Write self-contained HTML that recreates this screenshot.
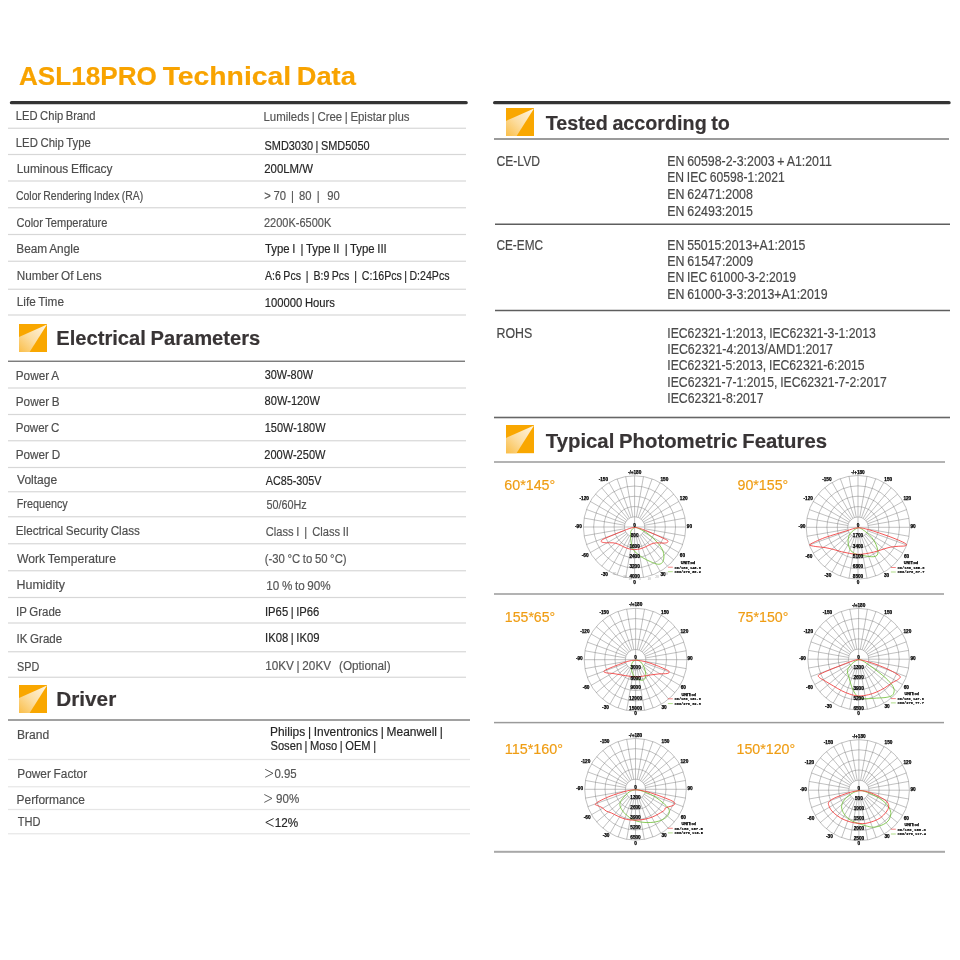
<!DOCTYPE html>
<html lang="en"><head><meta charset="utf-8"><title>ASL18PRO Technical Data</title>
<style>
html,body{margin:0;padding:0;background:#fff;}
body{width:960px;height:960px;position:relative;overflow:hidden;font-family:"Liberation Sans", sans-serif;}
.t{position:absolute;white-space:pre;line-height:1;transform-origin:0 0;margin:0;word-spacing:-0.05em;-webkit-text-stroke:0.18px currentColor;}
.ln{position:absolute;}
.ic,.ch{position:absolute;}
</style></head><body>
<svg class="ch" style="left:0;top:98px" width="960" height="8" viewBox="0 98 960 8"><path d="M11.50,102.65 H466.10" stroke="#343434" stroke-width="3.40" stroke-linecap="round" fill="none"/></svg>
<svg class="ch" style="left:0;top:98px" width="960" height="8" viewBox="0 98 960 8"><path d="M494.70,102.65 H949.00" stroke="#343434" stroke-width="3.40" stroke-linecap="round" fill="none"/></svg>
<div class="ln" style="left:8px;top:127px;width:458px;height:1px;background:#f1f1f1"></div>
<div class="ln" style="left:8px;top:128px;width:458px;height:1px;background:#dddddd"></div>
<div class="ln" style="left:8px;top:153px;width:458px;height:1px;background:#fbfbfb"></div>
<div class="ln" style="left:8px;top:154px;width:458px;height:1px;background:#d7d7d7"></div>
<div class="ln" style="left:8px;top:155px;width:458px;height:1px;background:#fbfbfb"></div>
<div class="ln" style="left:8px;top:180px;width:458px;height:1px;background:#e7e7e7"></div>
<div class="ln" style="left:8px;top:181px;width:458px;height:1px;background:#e7e7e7"></div>
<div class="ln" style="left:8px;top:207px;width:458px;height:1px;background:#dddddd"></div>
<div class="ln" style="left:8px;top:208px;width:458px;height:1px;background:#f1f1f1"></div>
<div class="ln" style="left:8px;top:233px;width:458px;height:1px;background:#fbfbfb"></div>
<div class="ln" style="left:8px;top:234px;width:458px;height:1px;background:#d7d7d7"></div>
<div class="ln" style="left:8px;top:235px;width:458px;height:1px;background:#fbfbfb"></div>
<div class="ln" style="left:8px;top:260px;width:458px;height:1px;background:#f1f1f1"></div>
<div class="ln" style="left:8px;top:261px;width:458px;height:1px;background:#dddddd"></div>
<div class="ln" style="left:8px;top:288px;width:458px;height:1px;background:#f1f1f1"></div>
<div class="ln" style="left:8px;top:289px;width:458px;height:1px;background:#dddddd"></div>
<div class="ln" style="left:8px;top:314px;width:458px;height:1px;background:#e7e7e7"></div>
<div class="ln" style="left:8px;top:315px;width:458px;height:1px;background:#e7e7e7"></div>
<div class="ln" style="left:8px;top:360px;width:457px;height:1px;background:#c5c5c5"></div>
<div class="ln" style="left:8px;top:361px;width:457px;height:1px;background:#7d7d7d"></div>
<div class="ln" style="left:8px;top:387px;width:458px;height:1px;background:#e7e7e7"></div>
<div class="ln" style="left:8px;top:388px;width:458px;height:1px;background:#e7e7e7"></div>
<div class="ln" style="left:8px;top:413px;width:458px;height:1px;background:#fbfbfb"></div>
<div class="ln" style="left:8px;top:414px;width:458px;height:1px;background:#d7d7d7"></div>
<div class="ln" style="left:8px;top:415px;width:458px;height:1px;background:#fbfbfb"></div>
<div class="ln" style="left:8px;top:440px;width:458px;height:1px;background:#dddddd"></div>
<div class="ln" style="left:8px;top:441px;width:458px;height:1px;background:#f1f1f1"></div>
<div class="ln" style="left:8px;top:466px;width:458px;height:1px;background:#fbfbfb"></div>
<div class="ln" style="left:8px;top:467px;width:458px;height:1px;background:#d7d7d7"></div>
<div class="ln" style="left:8px;top:468px;width:458px;height:1px;background:#fbfbfb"></div>
<div class="ln" style="left:8px;top:491px;width:458px;height:1px;background:#dddddd"></div>
<div class="ln" style="left:8px;top:492px;width:458px;height:1px;background:#f1f1f1"></div>
<div class="ln" style="left:8px;top:516px;width:458px;height:1px;background:#dddddd"></div>
<div class="ln" style="left:8px;top:517px;width:458px;height:1px;background:#f1f1f1"></div>
<div class="ln" style="left:8px;top:543px;width:458px;height:1px;background:#dddddd"></div>
<div class="ln" style="left:8px;top:544px;width:458px;height:1px;background:#f1f1f1"></div>
<div class="ln" style="left:8px;top:570px;width:458px;height:1px;background:#dddddd"></div>
<div class="ln" style="left:8px;top:571px;width:458px;height:1px;background:#f1f1f1"></div>
<div class="ln" style="left:8px;top:596px;width:458px;height:1px;background:#fbfbfb"></div>
<div class="ln" style="left:8px;top:597px;width:458px;height:1px;background:#d7d7d7"></div>
<div class="ln" style="left:8px;top:598px;width:458px;height:1px;background:#fbfbfb"></div>
<div class="ln" style="left:8px;top:622px;width:458px;height:1px;background:#e7e7e7"></div>
<div class="ln" style="left:8px;top:623px;width:458px;height:1px;background:#e7e7e7"></div>
<div class="ln" style="left:8px;top:651px;width:458px;height:1px;background:#dddddd"></div>
<div class="ln" style="left:8px;top:652px;width:458px;height:1px;background:#f1f1f1"></div>
<div class="ln" style="left:8px;top:676px;width:458px;height:1px;background:#f1f1f1"></div>
<div class="ln" style="left:8px;top:677px;width:458px;height:1px;background:#dddddd"></div>
<div class="ln" style="left:8px;top:719px;width:462px;height:1px;background:#a1a1a1"></div>
<div class="ln" style="left:8px;top:720px;width:462px;height:1px;background:#a1a1a1"></div>
<div class="ln" style="left:8px;top:758px;width:462px;height:1px;background:#fcfcfc"></div>
<div class="ln" style="left:8px;top:759px;width:462px;height:1px;background:#e6e6e6"></div>
<div class="ln" style="left:8px;top:760px;width:462px;height:1px;background:#fcfcfc"></div>
<div class="ln" style="left:8px;top:786px;width:462px;height:1px;background:#eaeaea"></div>
<div class="ln" style="left:8px;top:787px;width:462px;height:1px;background:#f6f6f6"></div>
<div class="ln" style="left:8px;top:808px;width:462px;height:1px;background:#fcfcfc"></div>
<div class="ln" style="left:8px;top:809px;width:462px;height:1px;background:#e6e6e6"></div>
<div class="ln" style="left:8px;top:810px;width:462px;height:1px;background:#fcfcfc"></div>
<div class="ln" style="left:8px;top:833px;width:462px;height:1px;background:#eaeaea"></div>
<div class="ln" style="left:8px;top:834px;width:462px;height:1px;background:#f6f6f6"></div>
<div class="ln" style="left:494px;top:138px;width:455px;height:1px;background:#9b9b9b"></div>
<div class="ln" style="left:494px;top:139px;width:455px;height:1px;background:#9b9b9b"></div>
<div class="ln" style="left:495px;top:223px;width:455px;height:1px;background:#aeaeae"></div>
<div class="ln" style="left:495px;top:224px;width:455px;height:1px;background:#5e5e5e"></div>
<div class="ln" style="left:495px;top:309px;width:455px;height:1px;background:#d7d7d7"></div>
<div class="ln" style="left:495px;top:310px;width:455px;height:1px;background:#5e5e5e"></div>
<div class="ln" style="left:495px;top:311px;width:455px;height:1px;background:#d7d7d7"></div>
<div class="ln" style="left:494px;top:416px;width:456px;height:1px;background:#d1d1d1"></div>
<div class="ln" style="left:494px;top:417px;width:456px;height:1px;background:#666666"></div>
<div class="ln" style="left:494px;top:418px;width:456px;height:1px;background:#d1d1d1"></div>
<div class="ln" style="left:494px;top:461px;width:451px;height:1px;background:#b3b3b3"></div>
<div class="ln" style="left:494px;top:462px;width:451px;height:1px;background:#b3b3b3"></div>
<div class="ln" style="left:494px;top:593px;width:450px;height:1px;background:#b3b3b3"></div>
<div class="ln" style="left:494px;top:594px;width:450px;height:1px;background:#b3b3b3"></div>
<div class="ln" style="left:494px;top:721px;width:450px;height:1px;background:#f0f0f0"></div>
<div class="ln" style="left:494px;top:722px;width:450px;height:1px;background:#9a9a9a"></div>
<div class="ln" style="left:494px;top:723px;width:450px;height:1px;background:#dcdcdc"></div>
<div class="ln" style="left:494px;top:850px;width:451px;height:1px;background:#eeeeee"></div>
<div class="ln" style="left:494px;top:851px;width:451px;height:1px;background:#a8a8a8"></div>
<div class="ln" style="left:494px;top:852px;width:451px;height:1px;background:#b9b9b9"></div>
<svg class="ic" style="left:19.00px;top:323.50px" width="28.20" height="28.20" viewBox="0 0 28.2 28.2"><defs><linearGradient id="ig0" x1="0" y1="1" x2="1" y2="0"><stop offset="0" stop-color="#fabe48"/><stop offset="0.45" stop-color="#fcdda0"/><stop offset="1" stop-color="#fff6e6"/></linearGradient></defs><rect width="28.2" height="28.2" fill="#f9a700"/><path d="M28.2,0.3 L0,12.9 L0,28.2 L10.5,28.2 Z" fill="url(#ig0)"/></svg>
<svg class="ic" style="left:19.00px;top:684.50px" width="28.20" height="28.20" viewBox="0 0 28.2 28.2"><defs><linearGradient id="ig1" x1="0" y1="1" x2="1" y2="0"><stop offset="0" stop-color="#fabe48"/><stop offset="0.45" stop-color="#fcdda0"/><stop offset="1" stop-color="#fff6e6"/></linearGradient></defs><rect width="28.2" height="28.2" fill="#f9a700"/><path d="M28.2,0.3 L0,12.9 L0,28.2 L10.5,28.2 Z" fill="url(#ig1)"/></svg>
<svg class="ic" style="left:506.20px;top:107.80px" width="28.20" height="28.20" viewBox="0 0 28.2 28.2"><defs><linearGradient id="ig2" x1="0" y1="1" x2="1" y2="0"><stop offset="0" stop-color="#fabe48"/><stop offset="0.45" stop-color="#fcdda0"/><stop offset="1" stop-color="#fff6e6"/></linearGradient></defs><rect width="28.2" height="28.2" fill="#f9a700"/><path d="M28.2,0.3 L0,12.9 L0,28.2 L10.5,28.2 Z" fill="url(#ig2)"/></svg>
<svg class="ic" style="left:506.20px;top:425.40px" width="28.20" height="28.20" viewBox="0 0 28.2 28.2"><defs><linearGradient id="ig3" x1="0" y1="1" x2="1" y2="0"><stop offset="0" stop-color="#fabe48"/><stop offset="0.45" stop-color="#fcdda0"/><stop offset="1" stop-color="#fff6e6"/></linearGradient></defs><rect width="28.2" height="28.2" fill="#f9a700"/><path d="M28.2,0.3 L0,12.9 L0,28.2 L10.5,28.2 Z" fill="url(#ig3)"/></svg>
<div id="txt" style="position:absolute;left:0;top:0;width:960px;height:960px;will-change:transform">
<div class="t" style="left:15px;top:110px;font-size:12.50px;font-weight:400;color:#4d4d4d;transform:translateX(0.75px) scaleX(0.8959)">LED Chip Brand</div>
<div class="t" style="left:15px;top:137px;font-size:12.50px;font-weight:400;color:#4d4d4d;transform:translateX(0.75px) scaleX(0.9093)">LED Chip Type</div>
<div class="t" style="left:16px;top:163px;font-size:12.50px;font-weight:400;color:#4d4d4d;transform:translateX(0.75px) scaleX(0.9510)">Luminous Efficacy</div>
<div class="t" style="left:16px;top:190px;font-size:12.50px;font-weight:400;color:#4d4d4d;transform:translateX(0.00px) scaleX(0.8347)">Color Rendering Index (RA)</div>
<div class="t" style="left:16px;top:217px;font-size:12.50px;font-weight:400;color:#4d4d4d;transform:translateX(0.50px) scaleX(0.8859)">Color Temperature</div>
<div class="t" style="left:16px;top:243px;font-size:12.50px;font-weight:400;color:#4d4d4d;transform:translateX(0.25px) scaleX(0.9471)">Beam Angle</div>
<div class="t" style="left:16px;top:270px;font-size:12.50px;font-weight:400;color:#4d4d4d;transform:translateX(0.75px) scaleX(0.9377)">Number Of Lens</div>
<div class="t" style="left:16px;top:296px;font-size:12.50px;font-weight:400;color:#4d4d4d;transform:translateX(0.75px) scaleX(0.9423)">Life Time</div>
<div class="t" style="left:263px;top:111px;font-size:12.50px;font-weight:400;color:#555555;transform:translateX(0.50px) scaleX(0.9146)">Lumileds | Cree | Epistar plus</div>
<div class="t" style="left:264px;top:140px;font-size:12.50px;font-weight:400;color:#262626;transform:translateX(0.50px) scaleX(0.8746)">SMD3030 | SMD5050</div>
<div class="t" style="left:264px;top:163px;font-size:12.50px;font-weight:400;color:#262626;transform:translateX(0.25px) scaleX(0.9112)">200LM/W</div>
<div class="t" style="left:264px;top:190px;font-size:12.50px;font-weight:400;color:#555555;transform:translateX(0.25px) scaleX(0.8997)">&gt; 70  |  80  |   90</div>
<div class="t" style="left:264px;top:217px;font-size:12.50px;font-weight:400;color:#555555;transform:translateX(0.00px) scaleX(0.8796)">2200K-6500K</div>
<div class="t" style="left:265px;top:243px;font-size:12.50px;font-weight:400;color:#262626;transform:translateX(0.00px) scaleX(0.9100)">Type I  | Type II  | Type III</div>
<div class="t" style="left:265px;top:270px;font-size:12.50px;font-weight:400;color:#262626;transform:translateX(0.00px) scaleX(0.8480)">A:6 Pcs  |  B:9 Pcs  |  C:16Pcs | D:24Pcs</div>
<div class="t" style="left:264px;top:297px;font-size:12.50px;font-weight:400;color:#262626;transform:translateX(0.75px) scaleX(0.9005)">100000 Hours</div>
<div class="t" style="left:15px;top:370px;font-size:12.50px;font-weight:400;color:#4d4d4d;transform:translateX(0.75px) scaleX(0.9418)">Power A</div>
<div class="t" style="left:15px;top:396px;font-size:12.50px;font-weight:400;color:#4d4d4d;transform:translateX(0.75px) scaleX(0.9418)">Power B</div>
<div class="t" style="left:15px;top:422px;font-size:12.50px;font-weight:400;color:#4d4d4d;transform:translateX(0.75px) scaleX(0.9228)">Power C</div>
<div class="t" style="left:15px;top:449px;font-size:12.50px;font-weight:400;color:#4d4d4d;transform:translateX(0.75px) scaleX(0.9387)">Power D</div>
<div class="t" style="left:17px;top:474px;font-size:12.50px;font-weight:400;color:#4d4d4d;transform:translateX(0.00px) scaleX(0.9648)">Voltage</div>
<div class="t" style="left:16px;top:498px;font-size:12.50px;font-weight:400;color:#4d4d4d;transform:translateX(0.75px) scaleX(0.8635)">Frequency</div>
<div class="t" style="left:15px;top:525px;font-size:12.50px;font-weight:400;color:#4d4d4d;transform:translateX(0.75px) scaleX(0.9342)">Electrical Security Class</div>
<div class="t" style="left:17px;top:553px;font-size:12.50px;font-weight:400;color:#4d4d4d;transform:translateX(0.00px) scaleX(0.9725)">Work Temperature</div>
<div class="t" style="left:16px;top:579px;font-size:12.50px;font-weight:400;color:#4d4d4d;transform:translateX(0.50px) scaleX(0.9974)">Humidity</div>
<div class="t" style="left:16px;top:606px;font-size:12.50px;font-weight:400;color:#4d4d4d;transform:translateX(0.00px) scaleX(0.9191)">IP Grade</div>
<div class="t" style="left:16px;top:633px;font-size:12.50px;font-weight:400;color:#4d4d4d;transform:translateX(0.50px) scaleX(0.9242)">IK Grade</div>
<div class="t" style="left:17px;top:661px;font-size:12.50px;font-weight:400;color:#4d4d4d;transform:translateX(0.00px) scaleX(0.8657)">SPD</div>
<div class="t" style="left:264px;top:369px;font-size:12.50px;font-weight:400;color:#262626;transform:translateX(0.75px) scaleX(0.8718)">30W-80W</div>
<div class="t" style="left:264px;top:395px;font-size:12.50px;font-weight:400;color:#262626;transform:translateX(0.50px) scaleX(0.8909)">80W-120W</div>
<div class="t" style="left:264px;top:422px;font-size:12.50px;font-weight:400;color:#262626;transform:translateX(0.75px) scaleX(0.8773)">150W-180W</div>
<div class="t" style="left:264px;top:449px;font-size:12.50px;font-weight:400;color:#262626;transform:translateX(0.25px) scaleX(0.8845)">200W-250W</div>
<div class="t" style="left:265px;top:475px;font-size:12.50px;font-weight:400;color:#262626;transform:translateX(0.75px) scaleX(0.8627)">AC85-305V</div>
<div class="t" style="left:266px;top:499px;font-size:12.50px;font-weight:400;color:#555555;transform:translateX(0.50px) scaleX(0.8644)">50/60Hz</div>
<div class="t" style="left:265px;top:526px;font-size:12.50px;font-weight:400;color:#555555;transform:translateX(0.75px) scaleX(0.8919)">Class I  |  Class II</div>
<div class="t" style="left:264px;top:553px;font-size:12.50px;font-weight:400;color:#555555;transform:translateX(0.75px) scaleX(0.9081)">(-30 °C to 50 °C)</div>
<div class="t" style="left:266px;top:580px;font-size:12.50px;font-weight:400;color:#555555;transform:translateX(0.25px) scaleX(0.9345)">10 % to 90%</div>
<div class="t" style="left:265px;top:606px;font-size:12.50px;font-weight:400;color:#262626;transform:translateX(0.00px) scaleX(0.8995)">IP65 | IP66</div>
<div class="t" style="left:265px;top:632px;font-size:12.50px;font-weight:400;color:#262626;transform:translateX(0.00px) scaleX(0.9037)">IK08 | IK09</div>
<div class="t" style="left:265px;top:660px;font-size:12.50px;font-weight:400;color:#555555;transform:translateX(0.25px) scaleX(0.9385)">10KV | 20KV   (Optional)</div>
<div class="t" style="left:17px;top:729px;font-size:12.50px;font-weight:400;color:#4d4d4d;transform:translateX(0.00px) scaleX(0.9667)">Brand</div>
<div class="t" style="left:17px;top:768px;font-size:12.50px;font-weight:400;color:#4d4d4d;transform:translateX(0.25px) scaleX(0.9486)">Power Factor</div>
<div class="t" style="left:16px;top:794px;font-size:12.50px;font-weight:400;color:#4d4d4d;transform:translateX(0.50px) scaleX(0.9572)">Performance</div>
<div class="t" style="left:17px;top:816px;font-size:12.50px;font-weight:400;color:#4d4d4d;transform:translateX(0.75px) scaleX(0.8851)">THD</div>
<div class="t" style="left:270px;top:726px;font-size:12.50px;font-weight:400;color:#262626;transform:translateX(0.00px) scaleX(0.9549)">Philips | Inventronics | Meanwell |</div>
<div class="t" style="left:270px;top:740px;font-size:12.50px;font-weight:400;color:#262626;transform:translateX(0.50px) scaleX(0.8908)">Sosen | Moso | OEM |</div>
<div class="t" style="left:274px;top:768px;font-size:12.50px;font-weight:400;color:#555555;transform:translateX(0.45px) scaleX(0.9140)">0.95</div>
<div class="t" style="left:276px;top:793px;font-size:12.50px;font-weight:400;color:#555555;transform:translateX(0.05px) scaleX(0.9248)">90%</div>
<div class="t" style="left:274px;top:817px;font-size:12.50px;font-weight:400;color:#262626;transform:translateX(0.75px) scaleX(0.9388)">12%</div>
<div class="t" style="left:19px;top:64px;font-size:25.20px;font-weight:700;color:#f8a300;transform:translateX(0.00px) scaleX(1.0370)">ASL18PRO</div>
<div class="t" style="left:162px;top:64px;font-size:25.20px;font-weight:700;color:#f8a300;transform:translateX(0.65px) scaleX(1.1240)">Technical</div>
<div class="t" style="left:296px;top:64px;font-size:25.20px;font-weight:700;color:#f8a300;transform:translateX(0.75px) scaleX(1.0825)">Data</div>
<div class="t" style="left:56px;top:328px;font-size:20.30px;font-weight:700;color:#383435;transform:translateX(0.25px) scaleX(0.9938)">Electrical Parameters</div>
<div class="t" style="left:56px;top:689px;font-size:20.30px;font-weight:700;color:#383435;transform:translateX(0.25px) scaleX(1.0232)">Driver</div>
<div class="t" style="left:545px;top:113px;font-size:20.30px;font-weight:700;color:#383435;transform:translateX(0.75px) scaleX(0.9731)">Tested according to</div>
<div class="t" style="left:545px;top:431px;font-size:20.30px;font-weight:700;color:#383435;transform:translateX(0.75px) scaleX(1.0029)">Typical Photometric Features</div>
<div class="t" style="left:496px;top:154px;font-size:14.20px;font-weight:400;color:#484848;transform:translateX(0.50px) scaleX(0.8532)">CE-LVD</div>
<div class="t" style="left:667px;top:154px;font-size:14.20px;font-weight:400;color:#484848;transform:translateX(0.25px) scaleX(0.8711)">EN 60598-2-3:2003 + A1:2011</div>
<div class="t" style="left:667px;top:170px;font-size:14.20px;font-weight:400;color:#484848;transform:translateX(0.25px) scaleX(0.8545)">EN IEC 60598-1:2021</div>
<div class="t" style="left:667px;top:187px;font-size:14.20px;font-weight:400;color:#484848;transform:translateX(0.25px) scaleX(0.8741)">EN 62471:2008</div>
<div class="t" style="left:667px;top:204px;font-size:14.20px;font-weight:400;color:#484848;transform:translateX(0.25px) scaleX(0.8741)">EN 62493:2015</div>
<div class="t" style="left:496px;top:238px;font-size:14.20px;font-weight:400;color:#484848;transform:translateX(0.50px) scaleX(0.8308)">CE-EMC</div>
<div class="t" style="left:667px;top:238px;font-size:14.20px;font-weight:400;color:#484848;transform:translateX(0.25px) scaleX(0.8682)">EN 55015:2013+A1:2015</div>
<div class="t" style="left:667px;top:254px;font-size:14.20px;font-weight:400;color:#484848;transform:translateX(0.25px) scaleX(0.8767)">EN 61547:2009</div>
<div class="t" style="left:667px;top:270px;font-size:14.20px;font-weight:400;color:#484848;transform:translateX(0.25px) scaleX(0.8593)">EN IEC 61000-3-2:2019</div>
<div class="t" style="left:667px;top:287px;font-size:14.20px;font-weight:400;color:#484848;transform:translateX(0.25px) scaleX(0.8700)">EN 61000-3-3:2013+A1:2019</div>
<div class="t" style="left:496px;top:326px;font-size:14.20px;font-weight:400;color:#484848;transform:translateX(0.50px) scaleX(0.8720)">ROHS</div>
<div class="t" style="left:667px;top:326px;font-size:14.20px;font-weight:400;color:#484848;transform:translateX(0.25px) scaleX(0.8611)">IEC62321-1:2013, IEC62321-3-1:2013</div>
<div class="t" style="left:667px;top:342px;font-size:14.20px;font-weight:400;color:#484848;transform:translateX(0.25px) scaleX(0.8719)">IEC62321-4:2013/AMD1:2017</div>
<div class="t" style="left:667px;top:358px;font-size:14.20px;font-weight:400;color:#484848;transform:translateX(0.25px) scaleX(0.8594)">IEC62321-5:2013, IEC62321-6:2015</div>
<div class="t" style="left:667px;top:375px;font-size:14.20px;font-weight:400;color:#484848;transform:translateX(0.25px) scaleX(0.8616)">IEC62321-7-1:2015, IEC62321-7-2:2017</div>
<div class="t" style="left:667px;top:391px;font-size:14.20px;font-weight:400;color:#484848;transform:translateX(0.25px) scaleX(0.8653)">IEC62321-8:2017</div>
<div class="t" style="left:504px;top:477px;font-size:15.20px;font-weight:400;color:#ef9d14;transform:translateX(0.25px) scaleX(0.9406)">60*145°</div>
<div class="t" style="left:737px;top:477px;font-size:15.20px;font-weight:400;color:#ef9d14;transform:translateX(0.50px) scaleX(0.9360)">90*155°</div>
<div class="t" style="left:504px;top:609px;font-size:15.20px;font-weight:400;color:#ef9d14;transform:translateX(0.85px) scaleX(0.9286)">155*65°</div>
<div class="t" style="left:737px;top:609px;font-size:15.20px;font-weight:400;color:#ef9d14;transform:translateX(0.70px) scaleX(0.9342)">75*150°</div>
<div class="t" style="left:504px;top:741px;font-size:15.20px;font-weight:400;color:#ef9d14;transform:translateX(0.85px) scaleX(0.9464)">115*160°</div>
<div class="t" style="left:736px;top:741px;font-size:15.20px;font-weight:400;color:#ef9d14;transform:translateX(0.50px) scaleX(0.9366)">150*120°</div>
</div>
<svg class="ch" style="left:0;top:0;will-change:transform" width="960" height="960" viewBox="0 0 960 960">
<polyline points="265.20,769.30 273.00,773.30 265.20,777.30" fill="none" stroke="#555555" stroke-width="0.95" stroke-linejoin="miter"/>
<polyline points="264.30,794.50 272.00,798.40 264.30,802.40" fill="none" stroke="#555555" stroke-width="0.95" stroke-linejoin="miter"/>
<polyline points="273.60,818.50 265.80,822.40 273.60,826.40" fill="none" stroke="#262626" stroke-width="0.95" stroke-linejoin="miter"/>
<g fill="none" stroke="#7c7c7c" stroke-width="0.48">
<circle cx="634.60" cy="527.00" r="10.24"/>
<circle cx="634.60" cy="527.00" r="20.48"/>
<circle cx="634.60" cy="527.00" r="30.72"/>
<circle cx="634.60" cy="527.00" r="40.96"/>
<circle cx="634.60" cy="527.00" r="51.20"/>
<path d="M634.60,527.00 L634.60,475.80 M636.38,516.92 L643.49,476.58 M638.10,517.38 L652.11,478.89 M639.72,518.13 L660.20,482.66 M641.18,519.16 L667.51,487.78 M642.44,520.42 L673.82,494.09 M643.47,521.88 L678.94,501.40 M644.22,523.50 L682.71,509.49 M644.68,525.22 L685.02,518.11 M634.60,527.00 L685.80,527.00 M644.68,528.78 L685.02,535.89 M644.22,530.50 L682.71,544.51 M643.47,532.12 L678.94,552.60 M642.44,533.58 L673.82,559.91 M641.18,534.84 L667.51,566.22 M639.72,535.87 L660.20,571.34 M638.10,536.62 L652.11,575.11 M636.38,537.08 L643.49,577.42 M634.60,527.00 L634.60,578.20 M632.82,537.08 L625.71,577.42 M631.10,536.62 L617.09,575.11 M629.48,535.87 L609.00,571.34 M628.02,534.84 L601.69,566.22 M626.76,533.58 L595.38,559.91 M625.73,532.12 L590.26,552.60 M624.98,530.50 L586.49,544.51 M624.52,528.78 L584.18,535.89 M634.60,527.00 L583.40,527.00 M624.52,525.22 L584.18,518.11 M624.98,523.50 L586.49,509.49 M625.73,521.88 L590.26,501.40 M626.76,520.42 L595.38,494.09 M628.02,519.16 L601.69,487.78 M629.48,518.13 L609.00,482.66 M631.10,517.38 L617.09,478.89 M632.82,516.92 L625.71,476.58 "/>
</g>
<path d="M634.60,527.50 C633.35,527.85 631.88,529.50 631.20,530.70 C630.52,531.90 630.50,532.68 630.50,534.70 C630.50,536.72 630.75,540.32 631.20,542.80 C631.65,545.28 632.18,547.78 633.20,549.60 C634.22,551.42 635.72,552.35 637.30,553.70 C638.88,555.05 640.45,556.35 642.70,557.70 C644.95,559.05 648.32,560.72 650.80,561.80 C653.28,562.88 655.78,563.97 657.60,564.20 C659.42,564.43 660.68,564.05 661.70,563.20 C662.72,562.35 663.37,560.68 663.70,559.10 C664.03,557.52 664.03,555.50 663.70,553.70 C663.37,551.90 662.72,550.12 661.70,548.30 C660.68,546.48 659.18,544.62 657.60,542.80 C656.02,540.98 654.23,539.20 652.20,537.40 C650.17,535.60 647.65,533.47 645.40,532.00 C643.15,530.53 640.50,529.35 638.70,528.60 C636.90,527.85 635.85,527.15 634.60,527.50Z" fill="none" stroke="#72c03c" stroke-width="0.85" stroke-linejoin="round"/>
<path d="M634.60,527.50 C638.20,527.47 641.78,529.13 645.40,530.40 C649.02,531.67 653.13,533.70 656.30,535.10 C659.47,536.50 662.48,537.85 664.40,538.80 C666.32,539.75 667.35,540.17 667.80,540.80 C668.25,541.43 667.90,542.22 667.10,542.60 C666.30,542.98 664.80,543.07 663.00,543.10 C661.20,543.13 658.33,542.62 656.30,542.80 C654.27,542.98 652.62,543.52 650.80,544.20 C648.98,544.88 647.20,546.12 645.40,546.90 C643.60,547.68 641.80,548.45 640.00,548.90 C638.20,549.35 636.40,549.60 634.60,549.60 C632.80,549.60 631.00,549.35 629.20,548.90 C627.40,548.45 625.60,547.68 623.80,546.90 C622.00,546.12 620.22,544.88 618.40,544.20 C616.58,543.52 614.93,543.03 612.90,542.80 C610.87,542.57 608.00,542.90 606.20,542.80 C604.40,542.70 602.93,542.53 602.10,542.20 C601.27,541.87 600.87,541.37 601.20,540.80 C601.53,540.23 602.15,539.75 604.10,538.80 C606.05,537.85 609.62,536.47 612.90,535.10 C616.18,533.73 620.18,531.87 623.80,530.60 C627.42,529.33 631.00,527.53 634.60,527.50Z" fill="none" stroke="#f23a3a" stroke-width="0.85" stroke-linejoin="round"/>
<g font-family='&quot;Liberation Sans&quot;, sans-serif' font-weight="700" font-size="4.7" fill="#000" stroke="#000" stroke-width="0.25" text-anchor="middle">
<text x="634.60" y="474.45">-/+180</text>
<text x="603.40" y="481.25">-150</text>
<text x="664.40" y="481.25">150</text>
<text x="584.20" y="500.45">-120</text>
<text x="683.70" y="500.45">120</text>
<text x="578.40" y="528.25">-90</text>
<text x="689.40" y="528.25">90</text>
<text x="585.20" y="557.35">-60</text>
<text x="682.40" y="557.35">60</text>
<text x="604.50" y="576.25">-30</text>
<text x="663.00" y="576.25">30</text>
<text x="634.60" y="584.05">0</text>
<text x="634.60" y="526.85">0</text>
<text x="634.60" y="537.05">800</text>
<text x="634.60" y="547.55">1600</text>
<text x="634.60" y="558.05">2400</text>
<text x="634.60" y="567.95">3200</text>
<text x="634.60" y="578.05">4000</text>
<text x="688.00" y="563.90" font-size="3.9">UNIT:cd</text>
</g>
<g font-family="&quot;Liberation Mono&quot;, monospace" font-weight="700" font-size="4.3" fill="#000" stroke="#000" stroke-width="0.2">
<text x="674.50" y="568.60" textLength="26.50" lengthAdjust="spacingAndGlyphs">C0/180,145.6</text>
<text x="674.50" y="573.10" textLength="26.50" lengthAdjust="spacingAndGlyphs">C90/270,59.2</text>
</g>
<path d="M667.90,567.20 H672.80" stroke="#f25050" stroke-width="0.7"/>
<path d="M667.90,571.70 H672.80" stroke="#8ccf55" stroke-width="0.7"/>
<g font-family="&quot;Liberation Serif&quot;, serif" font-size="3.6" fill="#9a9a9a" text-anchor="middle">
<text x="614.5" y="574.5">30</text>
<text x="625.0" y="578.0">20</text>
<text x="630.0" y="580.0">10</text>
<text x="640.0" y="580.0">5</text>
<text x="649.0" y="579.5">10</text>
<text x="657.0" y="578.0">20</text>
<text x="666.0" y="574.5">30</text>
</g>
<g fill="none" stroke="#7c7c7c" stroke-width="0.48">
<circle cx="858.00" cy="527.30" r="10.36"/>
<circle cx="858.00" cy="527.30" r="20.72"/>
<circle cx="858.00" cy="527.30" r="31.08"/>
<circle cx="858.00" cy="527.30" r="41.44"/>
<circle cx="858.00" cy="527.30" r="51.80"/>
<path d="M858.00,527.30 L858.00,475.50 M859.80,517.10 L866.99,476.29 M861.54,517.56 L875.72,478.62 M863.18,518.33 L883.90,482.44 M864.66,519.36 L891.30,487.62 M865.94,520.64 L897.68,494.00 M866.97,522.12 L902.86,501.40 M867.74,523.76 L906.68,509.58 M868.20,525.50 L909.01,518.31 M858.00,527.30 L909.80,527.30 M868.20,529.10 L909.01,536.29 M867.74,530.84 L906.68,545.02 M866.97,532.48 L902.86,553.20 M865.94,533.96 L897.68,560.60 M864.66,535.24 L891.30,566.98 M863.18,536.27 L883.90,572.16 M861.54,537.04 L875.72,575.98 M859.80,537.50 L866.99,578.31 M858.00,527.30 L858.00,579.10 M856.20,537.50 L849.01,578.31 M854.46,537.04 L840.28,575.98 M852.82,536.27 L832.10,572.16 M851.34,535.24 L824.70,566.98 M850.06,533.96 L818.32,560.60 M849.03,532.48 L813.14,553.20 M848.26,530.84 L809.32,545.02 M847.80,529.10 L806.99,536.29 M858.00,527.30 L806.20,527.30 M847.80,525.50 L806.99,518.31 M848.26,523.76 L809.32,509.58 M849.03,522.12 L813.14,501.40 M850.06,520.64 L818.32,494.00 M851.34,519.36 L824.70,487.62 M852.82,518.33 L832.10,482.44 M854.46,517.56 L840.28,478.62 M856.20,517.10 L849.01,476.29 "/>
</g>
<path d="M858.00,527.80 C856.65,528.33 853.73,530.02 852.20,531.40 C850.67,532.78 849.48,534.18 848.80,536.10 C848.12,538.02 847.88,540.65 848.10,542.90 C848.32,545.15 848.97,547.80 850.10,549.60 C851.23,551.40 852.97,552.75 854.90,553.70 C856.83,554.65 859.45,554.85 861.70,555.30 C863.95,555.75 866.38,556.17 868.40,556.40 C870.42,556.63 872.33,556.92 873.80,556.70 C875.27,556.48 876.52,556.05 877.20,555.10 C877.88,554.15 878.12,552.82 877.90,551.00 C877.68,549.18 876.92,546.45 875.90,544.20 C874.88,541.95 873.50,539.57 871.80,537.50 C870.10,535.43 867.62,533.35 865.70,531.80 C863.78,530.25 861.58,528.87 860.30,528.20 C859.02,527.53 859.35,527.27 858.00,527.80Z" fill="none" stroke="#72c03c" stroke-width="0.85" stroke-linejoin="round"/>
<path d="M858.00,527.80 C861.60,527.62 864.85,528.73 868.40,529.60 C871.95,530.47 875.68,531.80 879.30,533.00 C882.92,534.20 886.50,535.43 890.10,536.80 C893.70,538.17 898.20,539.97 900.90,541.20 C903.60,542.43 905.62,543.42 906.30,544.20 C906.98,544.98 906.35,545.55 905.00,545.90 C903.65,546.25 900.68,546.08 898.20,546.30 C895.72,546.52 892.80,546.65 890.10,547.20 C887.40,547.75 884.72,548.78 882.00,549.60 C879.28,550.42 876.52,551.42 873.80,552.10 C871.08,552.78 868.33,553.32 865.70,553.70 C863.07,554.08 860.70,554.45 858.00,554.40 C855.30,554.35 852.28,553.85 849.50,553.40 C846.72,552.95 844.02,552.37 841.30,551.70 C838.58,551.03 835.90,550.08 833.20,549.40 C830.50,548.72 827.80,548.05 825.10,547.60 C822.40,547.15 819.37,547.03 817.00,546.70 C814.63,546.37 812.08,545.97 810.90,545.60 C809.72,545.23 809.12,545.18 809.90,544.50 C810.68,543.82 813.07,542.67 815.60,541.50 C818.13,540.33 821.72,538.73 825.10,537.50 C828.48,536.27 832.28,535.23 835.90,534.10 C839.52,532.97 843.12,531.75 846.80,530.70 C850.48,529.65 854.40,527.98 858.00,527.80Z" fill="none" stroke="#f23a3a" stroke-width="0.85" stroke-linejoin="round"/>
<g font-family='&quot;Liberation Sans&quot;, sans-serif' font-weight="700" font-size="4.7" fill="#000" stroke="#000" stroke-width="0.25" text-anchor="middle">
<text x="858.00" y="473.85">-/+180</text>
<text x="826.90" y="481.25">-150</text>
<text x="888.20" y="481.25">150</text>
<text x="808.20" y="500.45">-120</text>
<text x="907.30" y="500.45">120</text>
<text x="802.00" y="528.25">-90</text>
<text x="913.00" y="528.25">90</text>
<text x="808.90" y="557.65">-60</text>
<text x="906.50" y="557.65">60</text>
<text x="827.90" y="577.15">-30</text>
<text x="886.50" y="577.15">30</text>
<text x="858.00" y="584.05">0</text>
<text x="858.00" y="526.85">0</text>
<text x="858.00" y="537.25">1700</text>
<text x="858.00" y="547.75">3400</text>
<text x="858.00" y="558.25">5100</text>
<text x="858.00" y="568.15">6800</text>
<text x="858.00" y="578.25">8500</text>
<text x="911.00" y="563.60" font-size="3.9">UNIT:cd</text>
</g>
<g font-family="&quot;Liberation Mono&quot;, monospace" font-weight="700" font-size="4.3" fill="#000" stroke="#000" stroke-width="0.2">
<text x="897.50" y="568.90" textLength="27.10" lengthAdjust="spacingAndGlyphs">C0/180,155.6</text>
<text x="897.50" y="573.40" textLength="27.10" lengthAdjust="spacingAndGlyphs">C90/270,87.7</text>
</g>
<path d="M890.90,567.50 H895.80" stroke="#f25050" stroke-width="0.7"/>
<path d="M890.90,572.00 H895.80" stroke="#8ccf55" stroke-width="0.7"/>
<g fill="none" stroke="#7c7c7c" stroke-width="0.48">
<circle cx="635.60" cy="659.70" r="10.28"/>
<circle cx="635.60" cy="659.70" r="20.56"/>
<circle cx="635.60" cy="659.70" r="30.84"/>
<circle cx="635.60" cy="659.70" r="41.12"/>
<circle cx="635.60" cy="659.70" r="51.40"/>
<path d="M635.60,659.70 L635.60,608.30 M637.39,649.58 L644.53,609.08 M639.12,650.04 L653.18,611.40 M640.74,650.80 L661.30,615.19 M642.21,651.83 L668.64,620.33 M643.47,653.09 L674.97,626.66 M644.50,654.56 L680.11,634.00 M645.26,656.18 L683.90,642.12 M645.72,657.91 L686.22,650.77 M635.60,659.70 L687.00,659.70 M645.72,661.49 L686.22,668.63 M645.26,663.22 L683.90,677.28 M644.50,664.84 L680.11,685.40 M643.47,666.31 L674.97,692.74 M642.21,667.57 L668.64,699.07 M640.74,668.60 L661.30,704.21 M639.12,669.36 L653.18,708.00 M637.39,669.82 L644.53,710.32 M635.60,659.70 L635.60,711.10 M633.81,669.82 L626.67,710.32 M632.08,669.36 L618.02,708.00 M630.46,668.60 L609.90,704.21 M628.99,667.57 L602.56,699.07 M627.73,666.31 L596.23,692.74 M626.70,664.84 L591.09,685.40 M625.94,663.22 L587.30,677.28 M625.48,661.49 L584.98,668.63 M635.60,659.70 L584.20,659.70 M625.48,657.91 L584.98,650.77 M625.94,656.18 L587.30,642.12 M626.70,654.56 L591.09,634.00 M627.73,653.09 L596.23,626.66 M628.99,651.83 L602.56,620.33 M630.46,650.80 L609.90,615.19 M632.08,650.04 L618.02,611.40 M633.81,649.58 L626.67,609.08 "/>
</g>
<path d="M635.60,660.20 C634.92,660.53 633.32,660.80 632.60,662.00 C631.88,663.20 631.30,665.48 631.30,667.40 C631.30,669.32 631.82,671.68 632.60,673.50 C633.38,675.32 634.53,677.17 636.00,678.30 C637.47,679.43 639.93,680.20 641.40,680.30 C642.87,680.40 644.07,679.92 644.80,678.90 C645.53,677.88 645.92,676.12 645.80,674.20 C645.68,672.28 644.95,669.43 644.10,667.40 C643.25,665.37 641.93,663.23 640.70,662.00 C639.47,660.77 637.55,660.30 636.70,660.00 C635.85,659.70 636.28,659.87 635.60,660.20Z" fill="none" stroke="#72c03c" stroke-width="0.85" stroke-linejoin="round"/>
<path d="M635.60,660.20 C638.53,660.27 642.05,660.83 645.50,661.70 C648.95,662.57 653.15,664.22 656.30,665.40 C659.45,666.58 662.25,667.78 664.40,668.80 C666.55,669.82 668.73,670.72 669.20,671.50 C669.67,672.28 668.90,673.10 667.20,673.50 C665.50,673.90 661.72,673.67 659.00,673.90 C656.28,674.13 653.60,674.52 650.90,674.90 C648.20,675.28 645.35,675.87 642.80,676.20 C640.25,676.53 637.87,676.90 635.60,676.90 C633.33,676.90 631.62,676.53 629.20,676.20 C626.78,675.87 623.80,675.35 621.10,674.90 C618.40,674.45 615.48,673.85 613.00,673.50 C610.52,673.15 607.72,673.18 606.20,672.80 C604.68,672.42 603.45,671.92 603.90,671.20 C604.35,670.48 606.48,669.58 608.90,668.50 C611.32,667.42 615.23,665.90 618.40,664.70 C621.57,663.50 625.03,662.05 627.90,661.30 C630.77,660.55 632.67,660.13 635.60,660.20Z" fill="none" stroke="#f23a3a" stroke-width="0.85" stroke-linejoin="round"/>
<g font-family='&quot;Liberation Sans&quot;, sans-serif' font-weight="700" font-size="4.7" fill="#000" stroke="#000" stroke-width="0.25" text-anchor="middle">
<text x="635.60" y="606.05">-/+180</text>
<text x="604.10" y="613.55">-150</text>
<text x="665.00" y="613.55">150</text>
<text x="584.90" y="632.95">-120</text>
<text x="684.40" y="632.95">120</text>
<text x="579.30" y="659.85">-90</text>
<text x="690.10" y="659.85">90</text>
<text x="586.10" y="689.35">-60</text>
<text x="683.30" y="689.35">60</text>
<text x="605.50" y="708.65">-30</text>
<text x="664.00" y="708.65">30</text>
<text x="635.60" y="715.15">0</text>
<text x="635.60" y="659.15">0</text>
<text x="635.60" y="669.35">3000</text>
<text x="635.60" y="679.85">6000</text>
<text x="635.60" y="689.35">9000</text>
<text x="635.60" y="699.95">12000</text>
<text x="635.60" y="709.95">15000</text>
<text x="688.70" y="695.60" font-size="3.9">UNIT:cd</text>
</g>
<g font-family="&quot;Liberation Mono&quot;, monospace" font-weight="700" font-size="4.3" fill="#000" stroke="#000" stroke-width="0.2">
<text x="674.50" y="700.20" textLength="26.50" lengthAdjust="spacingAndGlyphs">C0/180,151.6</text>
<text x="674.50" y="705.00" textLength="26.50" lengthAdjust="spacingAndGlyphs">C90/270,62.8</text>
</g>
<path d="M667.90,698.80 H672.80" stroke="#f25050" stroke-width="0.7"/>
<path d="M667.90,703.60 H672.80" stroke="#8ccf55" stroke-width="0.7"/>
<g fill="none" stroke="#7c7c7c" stroke-width="0.48">
<circle cx="858.60" cy="659.20" r="10.16"/>
<circle cx="858.60" cy="659.20" r="20.32"/>
<circle cx="858.60" cy="659.20" r="30.48"/>
<circle cx="858.60" cy="659.20" r="40.64"/>
<circle cx="858.60" cy="659.20" r="50.80"/>
<path d="M858.60,659.20 L858.60,608.40 M860.36,649.19 L867.42,609.17 M862.07,649.65 L875.97,611.46 M863.68,650.40 L884.00,615.21 M865.13,651.42 L891.25,620.28 M866.38,652.67 L897.52,626.55 M867.40,654.12 L902.59,633.80 M868.15,655.73 L906.34,641.83 M868.61,657.44 L908.63,650.38 M858.60,659.20 L909.40,659.20 M868.61,660.96 L908.63,668.02 M868.15,662.67 L906.34,676.57 M867.40,664.28 L902.59,684.60 M866.38,665.73 L897.52,691.85 M865.13,666.98 L891.25,698.12 M863.68,668.00 L884.00,703.19 M862.07,668.75 L875.97,706.94 M860.36,669.21 L867.42,709.23 M858.60,659.20 L858.60,710.00 M856.84,669.21 L849.78,709.23 M855.13,668.75 L841.23,706.94 M853.52,668.00 L833.20,703.19 M852.07,666.98 L825.95,698.12 M850.82,665.73 L819.68,691.85 M849.80,664.28 L814.61,684.60 M849.05,662.67 L810.86,676.57 M848.59,660.96 L808.57,668.02 M858.60,659.20 L807.80,659.20 M848.59,657.44 L808.57,650.38 M849.05,655.73 L810.86,641.83 M849.80,654.12 L814.61,633.80 M850.82,652.67 L819.68,626.55 M852.07,651.42 L825.95,620.28 M853.52,650.40 L833.20,615.21 M855.13,649.65 L841.23,611.46 M856.84,649.19 L849.78,609.17 "/>
</g>
<path d="M858.60,659.70 C856.78,660.10 854.05,661.73 852.20,663.50 C850.35,665.27 848.05,668.03 847.50,670.30 C846.95,672.57 848.22,674.38 848.90,677.10 C849.58,679.82 850.60,683.90 851.60,686.60 C852.60,689.30 853.67,691.50 854.90,693.30 C856.13,695.10 857.18,696.50 859.00,697.40 C860.82,698.30 862.87,698.58 865.80,698.70 C868.73,698.82 873.22,698.32 876.60,698.10 C879.98,697.88 883.50,697.85 886.10,697.40 C888.70,696.95 890.85,696.53 892.20,695.40 C893.55,694.27 894.20,692.30 894.20,690.60 C894.20,688.90 893.55,687.23 892.20,685.20 C890.85,683.17 888.47,680.65 886.10,678.40 C883.73,676.15 880.72,673.83 878.00,671.70 C875.28,669.57 872.28,667.37 869.80,665.60 C867.32,663.83 864.97,662.08 863.10,661.10 C861.23,660.12 860.42,659.30 858.60,659.70Z" fill="none" stroke="#72c03c" stroke-width="0.85" stroke-linejoin="round"/>
<path d="M858.60,659.70 C861.32,659.83 865.05,660.92 868.50,661.90 C871.95,662.88 875.68,664.20 879.30,665.60 C882.92,667.00 887.03,668.73 890.20,670.30 C893.37,671.87 896.62,673.87 898.30,675.00 C899.98,676.13 900.42,676.30 900.30,677.10 C900.18,677.90 899.07,678.78 897.60,679.80 C896.13,680.82 893.65,681.85 891.50,683.20 C889.35,684.55 887.18,686.43 884.70,687.90 C882.22,689.37 879.30,690.87 876.60,692.00 C873.90,693.13 871.50,694.03 868.50,694.70 C865.50,695.37 861.77,696.12 858.60,696.00 C855.43,695.88 852.37,694.90 849.50,694.00 C846.63,693.10 844.10,691.95 841.40,690.60 C838.70,689.25 836.00,687.48 833.30,685.90 C830.60,684.32 827.47,682.45 825.20,681.10 C822.93,679.75 820.83,678.75 819.70,677.80 C818.57,676.85 817.95,676.20 818.40,675.40 C818.85,674.60 820.15,674.08 822.40,673.00 C824.65,671.92 828.50,670.30 831.90,668.90 C835.30,667.50 839.42,665.90 842.80,664.60 C846.18,663.30 849.57,661.92 852.20,661.10 C854.83,660.28 855.88,659.57 858.60,659.70Z" fill="none" stroke="#f23a3a" stroke-width="0.85" stroke-linejoin="round"/>
<g font-family='&quot;Liberation Sans&quot;, sans-serif' font-weight="700" font-size="4.7" fill="#000" stroke="#000" stroke-width="0.25" text-anchor="middle">
<text x="858.60" y="606.95">-/+180</text>
<text x="827.50" y="613.55">-150</text>
<text x="888.20" y="613.55">150</text>
<text x="808.40" y="632.95">-120</text>
<text x="907.40" y="632.95">120</text>
<text x="802.60" y="659.85">-90</text>
<text x="913.10" y="659.85">90</text>
<text x="809.50" y="688.65">-60</text>
<text x="906.30" y="688.65">60</text>
<text x="828.50" y="708.15">-30</text>
<text x="887.00" y="708.15">30</text>
<text x="858.60" y="714.65">0</text>
<text x="858.60" y="658.65">0</text>
<text x="858.60" y="669.35">1300</text>
<text x="858.60" y="679.25">2600</text>
<text x="858.60" y="689.65">3900</text>
<text x="858.60" y="699.55">5200</text>
<text x="858.60" y="709.95">6500</text>
<text x="911.70" y="695.20" font-size="3.9">UNIT:cd</text>
</g>
<g font-family="&quot;Liberation Mono&quot;, monospace" font-weight="700" font-size="4.3" fill="#000" stroke="#000" stroke-width="0.2">
<text x="897.50" y="700.00" textLength="26.50" lengthAdjust="spacingAndGlyphs">C0/180,147.9</text>
<text x="897.50" y="704.30" textLength="26.50" lengthAdjust="spacingAndGlyphs">C90/270,77.7</text>
</g>
<path d="M890.90,698.60 H895.80" stroke="#f25050" stroke-width="0.7"/>
<path d="M890.90,702.90 H895.80" stroke="#8ccf55" stroke-width="0.7"/>
<g fill="none" stroke="#7c7c7c" stroke-width="0.48">
<circle cx="635.50" cy="789.30" r="10.16"/>
<circle cx="635.50" cy="789.30" r="20.32"/>
<circle cx="635.50" cy="789.30" r="30.48"/>
<circle cx="635.50" cy="789.30" r="40.64"/>
<circle cx="635.50" cy="789.30" r="50.80"/>
<path d="M635.50,789.30 L635.50,738.50 M637.26,779.29 L644.32,739.27 M638.97,779.75 L652.87,741.56 M640.58,780.50 L660.90,745.31 M642.03,781.52 L668.15,750.38 M643.28,782.77 L674.42,756.65 M644.30,784.22 L679.49,763.90 M645.05,785.83 L683.24,771.93 M645.51,787.54 L685.53,780.48 M635.50,789.30 L686.30,789.30 M645.51,791.06 L685.53,798.12 M645.05,792.77 L683.24,806.67 M644.30,794.38 L679.49,814.70 M643.28,795.83 L674.42,821.95 M642.03,797.08 L668.15,828.22 M640.58,798.10 L660.90,833.29 M638.97,798.85 L652.87,837.04 M637.26,799.31 L644.32,839.33 M635.50,789.30 L635.50,840.10 M633.74,799.31 L626.68,839.33 M632.03,798.85 L618.13,837.04 M630.42,798.10 L610.10,833.29 M628.97,797.08 L602.85,828.22 M627.72,795.83 L596.58,821.95 M626.70,794.38 L591.51,814.70 M625.95,792.77 L587.76,806.67 M625.49,791.06 L585.47,798.12 M635.50,789.30 L584.70,789.30 M625.49,787.54 L585.47,780.48 M625.95,785.83 L587.76,771.93 M626.70,784.22 L591.51,763.90 M627.72,782.77 L596.58,756.65 M628.97,781.52 L602.85,750.38 M630.42,780.50 L610.10,745.31 M632.03,779.75 L618.13,741.56 M633.74,779.29 L626.68,739.27 "/>
</g>
<path d="M635.50,789.80 C633.68,790.07 631.28,790.50 629.10,792.00 C626.92,793.50 623.93,796.77 622.40,798.80 C620.87,800.83 620.02,802.40 619.90,804.20 C619.78,806.00 620.62,807.80 621.70,809.60 C622.78,811.40 624.48,813.30 626.40,815.00 C628.32,816.70 630.72,818.62 633.20,819.80 C635.68,820.98 638.37,821.65 641.30,822.10 C644.23,822.55 647.87,822.67 650.80,822.50 C653.73,822.33 656.42,821.90 658.90,821.10 C661.38,820.30 664.00,819.05 665.70,817.70 C667.40,816.35 668.65,814.57 669.10,813.00 C669.55,811.43 669.42,810.00 668.40,808.30 C667.38,806.60 665.25,804.73 663.00,802.80 C660.75,800.87 657.62,798.38 654.90,796.70 C652.18,795.02 649.18,793.75 646.70,792.70 C644.22,791.65 641.87,790.88 640.00,790.40 C638.13,789.92 637.32,789.53 635.50,789.80Z" fill="none" stroke="#72c03c" stroke-width="0.85" stroke-linejoin="round"/>
<path d="M635.50,789.80 C638.43,789.90 641.95,790.48 645.40,791.30 C648.85,792.12 652.58,793.45 656.20,794.70 C659.82,795.95 664.28,797.67 667.10,798.80 C669.92,799.93 671.80,800.72 673.10,801.50 C674.40,802.28 674.90,802.83 674.90,803.50 C674.90,804.17 674.18,804.93 673.10,805.50 C672.02,806.07 669.75,806.43 668.40,806.90 C667.05,807.37 665.68,807.73 665.00,808.30 C664.32,808.87 665.32,809.40 664.30,810.30 C663.28,811.20 660.92,812.57 658.90,813.70 C656.88,814.83 654.68,816.15 652.20,817.10 C649.72,818.05 646.78,818.88 644.00,819.40 C641.22,819.92 638.43,820.20 635.50,820.20 C632.57,820.20 629.27,820.03 626.40,819.40 C623.53,818.77 620.78,817.47 618.30,816.40 C615.82,815.33 613.53,813.90 611.50,813.00 C609.47,812.10 607.67,811.90 606.10,811.00 C604.53,810.10 603.57,808.52 602.10,807.60 C600.63,806.68 598.43,806.07 597.30,805.50 C596.17,804.93 594.97,804.92 595.30,804.20 C595.63,803.48 597.05,802.45 599.30,801.20 C601.55,799.95 605.63,798.00 608.80,796.70 C611.97,795.40 615.13,794.40 618.30,793.40 C621.47,792.40 624.93,791.30 627.80,790.70 C630.67,790.10 632.57,789.70 635.50,789.80Z" fill="none" stroke="#f23a3a" stroke-width="0.85" stroke-linejoin="round"/>
<g font-family='&quot;Liberation Sans&quot;, sans-serif' font-weight="700" font-size="4.7" fill="#000" stroke="#000" stroke-width="0.25" text-anchor="middle">
<text x="635.50" y="736.55">-/+180</text>
<text x="604.80" y="743.15">-150</text>
<text x="665.50" y="743.15">150</text>
<text x="585.60" y="762.55">-120</text>
<text x="684.40" y="762.55">120</text>
<text x="579.70" y="789.55">-90</text>
<text x="690.10" y="789.55">90</text>
<text x="587.20" y="819.15">-60</text>
<text x="683.30" y="819.15">60</text>
<text x="606.10" y="837.35">-30</text>
<text x="664.00" y="837.35">30</text>
<text x="635.50" y="845.15">0</text>
<text x="635.50" y="788.65">0</text>
<text x="635.50" y="799.05">1300</text>
<text x="635.50" y="808.85">2600</text>
<text x="635.50" y="819.15">3900</text>
<text x="635.50" y="828.85">5200</text>
<text x="635.50" y="839.45">6500</text>
<text x="688.70" y="824.90" font-size="3.9">UNIT:cd</text>
</g>
<g font-family="&quot;Liberation Mono&quot;, monospace" font-weight="700" font-size="4.3" fill="#000" stroke="#000" stroke-width="0.2">
<text x="674.50" y="829.70" textLength="28.50" lengthAdjust="spacingAndGlyphs">C0/180,157.5</text>
<text x="674.50" y="834.30" textLength="28.50" lengthAdjust="spacingAndGlyphs">C90/270,115.5</text>
</g>
<path d="M667.90,828.30 H672.80" stroke="#f25050" stroke-width="0.7"/>
<path d="M667.90,832.90 H672.80" stroke="#8ccf55" stroke-width="0.7"/>
<g fill="none" stroke="#7c7c7c" stroke-width="0.48">
<circle cx="858.90" cy="790.20" r="10.10"/>
<circle cx="858.90" cy="790.20" r="20.20"/>
<circle cx="858.90" cy="790.20" r="30.30"/>
<circle cx="858.90" cy="790.20" r="40.40"/>
<circle cx="858.90" cy="790.20" r="50.50"/>
<path d="M858.90,790.20 L858.90,739.70 M860.65,780.25 L867.67,740.47 M862.35,780.71 L876.17,742.75 M863.95,781.45 L884.15,746.47 M865.39,782.46 L891.36,751.51 M866.64,783.71 L897.59,757.74 M867.65,785.15 L902.63,764.95 M868.39,786.75 L906.35,772.93 M868.85,788.45 L908.63,781.43 M858.90,790.20 L909.40,790.20 M868.85,791.95 L908.63,798.97 M868.39,793.65 L906.35,807.47 M867.65,795.25 L902.63,815.45 M866.64,796.69 L897.59,822.66 M865.39,797.94 L891.36,828.89 M863.95,798.95 L884.15,833.93 M862.35,799.69 L876.17,837.65 M860.65,800.15 L867.67,839.93 M858.90,790.20 L858.90,840.70 M857.15,800.15 L850.13,839.93 M855.45,799.69 L841.63,837.65 M853.85,798.95 L833.65,833.93 M852.41,797.94 L826.44,828.89 M851.16,796.69 L820.21,822.66 M850.15,795.25 L815.17,815.45 M849.41,793.65 L811.45,807.47 M848.95,791.95 L809.17,798.97 M858.90,790.20 L808.40,790.20 M848.95,788.45 L809.17,781.43 M849.41,786.75 L811.45,772.93 M850.15,785.15 L815.17,764.95 M851.16,783.71 L820.21,757.74 M852.41,782.46 L826.44,751.51 M853.85,781.45 L833.65,746.47 M855.45,780.71 L841.63,742.75 M857.15,780.25 L850.13,740.47 "/>
</g>
<path d="M858.90,790.70 C856.87,791.03 854.35,791.97 852.10,793.30 C849.85,794.63 847.08,796.90 845.40,798.70 C843.72,800.50 842.57,802.28 842.00,804.10 C841.43,805.92 841.43,807.67 842.00,809.60 C842.57,811.53 843.93,813.90 845.40,815.70 C846.87,817.50 848.78,819.17 850.80,820.40 C852.82,821.63 855.02,822.20 857.50,823.10 C859.98,824.00 862.98,825.12 865.70,825.80 C868.42,826.48 871.10,827.32 873.80,827.20 C876.50,827.08 879.53,826.12 881.90,825.10 C884.27,824.08 886.53,822.78 888.00,821.10 C889.47,819.42 890.37,816.92 890.70,815.00 C891.03,813.08 890.78,811.52 890.00,809.60 C889.22,807.68 887.80,805.42 886.00,803.50 C884.20,801.58 881.68,799.68 879.20,798.10 C876.72,796.52 873.58,795.13 871.10,794.00 C868.62,792.87 866.33,791.85 864.30,791.30 C862.27,790.75 860.93,790.37 858.90,790.70Z" fill="none" stroke="#72c03c" stroke-width="0.85" stroke-linejoin="round"/>
<path d="M858.90,790.70 C861.38,790.55 863.22,790.75 865.70,791.30 C868.18,791.85 871.10,792.87 873.80,794.00 C876.50,795.13 879.65,796.75 881.90,798.10 C884.15,799.45 886.17,800.63 887.30,802.10 C888.43,803.57 888.92,805.20 888.70,806.90 C888.48,808.60 887.35,810.50 886.00,812.30 C884.65,814.10 882.63,816.23 880.60,817.70 C878.57,819.17 876.28,820.15 873.80,821.10 C871.32,822.05 868.18,823.02 865.70,823.40 C863.22,823.78 861.17,823.57 858.90,823.40 C856.63,823.23 854.58,823.02 852.10,822.40 C849.62,821.78 846.48,820.82 844.00,819.70 C841.52,818.58 839.23,817.17 837.20,815.70 C835.17,814.23 833.20,812.60 831.80,810.90 C830.40,809.20 829.30,806.97 828.80,805.50 C828.30,804.03 828.07,803.23 828.80,802.10 C829.53,800.97 831.12,799.83 833.20,798.70 C835.28,797.57 838.37,796.38 841.30,795.30 C844.23,794.22 847.87,792.97 850.80,792.20 C853.73,791.43 856.42,790.85 858.90,790.70Z" fill="none" stroke="#f23a3a" stroke-width="0.85" stroke-linejoin="round"/>
<g font-family='&quot;Liberation Sans&quot;, sans-serif' font-weight="700" font-size="4.7" fill="#000" stroke="#000" stroke-width="0.25" text-anchor="middle">
<text x="858.90" y="737.75">-/+180</text>
<text x="828.50" y="744.25">-150</text>
<text x="888.50" y="744.25">150</text>
<text x="809.50" y="763.55">-120</text>
<text x="907.40" y="763.55">120</text>
<text x="803.40" y="790.55">-90</text>
<text x="913.10" y="790.55">90</text>
<text x="810.90" y="820.05">-60</text>
<text x="906.30" y="820.05">60</text>
<text x="829.40" y="838.35">-30</text>
<text x="887.00" y="838.35">30</text>
<text x="858.90" y="845.15">0</text>
<text x="858.90" y="789.65">0</text>
<text x="858.90" y="800.15">500</text>
<text x="858.90" y="809.85">1000</text>
<text x="858.90" y="820.35">1500</text>
<text x="858.90" y="829.95">2000</text>
<text x="858.90" y="840.35">2500</text>
<text x="911.70" y="825.60" font-size="3.9">UNIT:cd</text>
</g>
<g font-family="&quot;Liberation Mono&quot;, monospace" font-weight="700" font-size="4.3" fill="#000" stroke="#000" stroke-width="0.2">
<text x="897.50" y="830.60" textLength="28.50" lengthAdjust="spacingAndGlyphs">C0/180,156.3</text>
<text x="897.50" y="835.40" textLength="28.50" lengthAdjust="spacingAndGlyphs">C90/270,117.4</text>
</g>
<path d="M890.90,829.20 H895.80" stroke="#f25050" stroke-width="0.7"/>
<path d="M890.90,834.00 H895.80" stroke="#8ccf55" stroke-width="0.7"/>
</svg>
</body></html>
